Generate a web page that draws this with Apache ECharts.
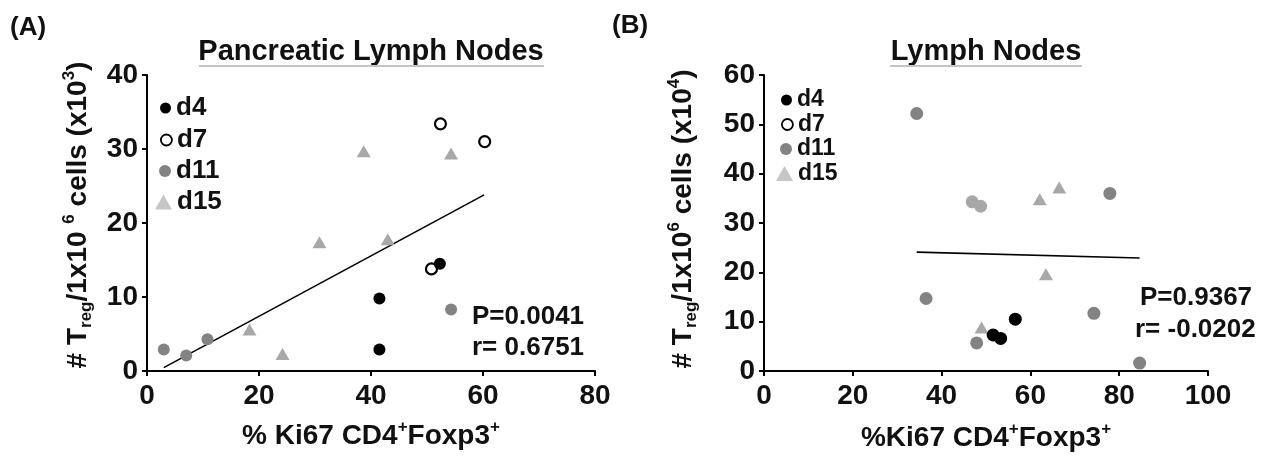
<!DOCTYPE html>
<html>
<head>
<meta charset="utf-8">
<script src="https://cdn.jsdelivr.net/npm/echarts/dist/echarts.min.js"></script>
<style>
  html, body { margin: 0; padding: 0; background: #ffffff; }
  #chart { width: 1274px; height: 459px; }
</style>
</head>
<body>
<div id="chart"></div>
<script>
  // ---- (A) Pancreatic Lymph Nodes : [ %Ki67 , Treg per 1e6 cells (x10^3) ]
  const plnD4 = [[41.5, 9.8], [41.5, 2.9], [52.3, 14.5]];
  const plnD7 = [[52.4, 33.4], [60.3, 31.0], [50.8, 13.8]];
  const plnD11 = [[3.0, 2.9], [7.0, 2.1], [10.8, 4.3], [54.3, 8.3]];
  const plnD15 = [[38.7, 29.7], [54.3, 29.4], [30.8, 17.4], [43.0, 17.8], [18.3, 5.6], [24.2, 2.3]];
  const plnFit = [[3.0, 0.45], [60.2, 23.8]];
  const plnStats = ['P=0.0041', 'r= 0.6751'];

  // ---- (B) Lymph Nodes : [ %Ki67 , Treg per 1e6 cells (x10^4) ]
  const lnD4 = [[56.6, 10.5], [51.6, 7.3], [53.3, 6.6]];
  const lnD11 = [[34.4, 52.2], [77.9, 36.0], [36.5, 14.7], [74.3, 11.7], [47.9, 5.7], [84.6, 1.6]];
  const lnD15 = [[62.1, 34.8], [66.5, 37.2], [63.5, 19.6], [49.0, 8.8]];
  const lnD15Dots = [[46.9, 34.3], [48.8, 33.4]];
  const lnFit = [[34.4, 24.1], [84.6, 22.9]];
  const lnStats = ['P=0.9367', 'r= -0.0202'];

  // axis ranges
  const plnXMax = 80, plnXStep = 20, plnYMax = 40, plnYStep = 10;
  const lnXMax = 100, lnXStep = 20, lnYMax = 60, lnYStep = 10;

  const FONT = '"Liberation Sans", Arial, Helvetica, sans-serif';
  const INK = '#111111';
  const C_D11 = '#838383';
  const C_D15 = '#a8a8a8';
  const C_D15_KEY = '#c6c6c6';

  let myChart = echarts.init(document.getElementById('chart'));

  function valueAxis(gridIndex, max, step, isX) {
    return {
      type: 'value',
      gridIndex: gridIndex,
      min: 0,
      max: max,
      interval: step,
      axisLine: {show: true, onZero: false, lineStyle: {color: '#000', width: 2}},
      axisTick: {show: true, inside: false, length: 5, lineStyle: {color: '#000', width: 2}},
      splitLine: {show: false},
      axisLabel: {
        color: INK, fontSize: 28, fontWeight: 'bold', fontFamily: FONT,
        margin: isX ? 11 : 9
      }
    };
  }

  function dots(name, data, xi, color, size) {
    return {
      type: 'scatter', name: name, xAxisIndex: xi, yAxisIndex: xi,
      data: data, symbol: 'circle', symbolSize: size,
      itemStyle: {color: color, opacity: 1},
      emphasis: {disabled: true}
    };
  }

  function rings(name, data, xi) {
    return {
      type: 'scatter', name: name, xAxisIndex: xi, yAxisIndex: xi,
      data: data, symbol: 'circle', symbolSize: 11,
      itemStyle: {color: '#ffffff', borderColor: '#000', borderWidth: 2.2, opacity: 1},
      emphasis: {disabled: true}
    };
  }

  function tris(name, data, xi) {
    return {
      type: 'scatter', name: name, xAxisIndex: xi, yAxisIndex: xi,
      data: data, symbol: 'triangle', symbolSize: [14, 12],
      itemStyle: {color: C_D15, opacity: 1},
      emphasis: {disabled: true}
    };
  }

  function fitLine(data, xi) {
    return {
      type: 'line', name: 'fit', xAxisIndex: xi, yAxisIndex: xi,
      data: data, symbol: 'none', showSymbol: false, silent: true,
      lineStyle: {color: '#000', width: 1.6}, z: 1
    };
  }

  // one legend per row so every key can keep its own icon size
  function keyRow(name, left, cy, icon, w, h, style, fs) {
    return {
      orient: 'vertical', left: left, top: cy - Math.max(h, fs) / 2,
      padding: 0, itemGap: 0, itemWidth: w, itemHeight: h,
      selectedMode: false,
      data: [{name: name, icon: icon, itemStyle: style}],
      textStyle: {fontSize: fs, fontWeight: 'bold', fontFamily: FONT, color: INK}
    };
  }

  function rich(size) {
    return {
      b: {fontSize: size, fontWeight: 'bold', fontFamily: FONT, fill: INK, lineHeight: 34},
      sup: {fontSize: 17, fontWeight: 'bold', fontFamily: FONT, fill: INK, lineHeight: 17, verticalAlign: 'top'},
      sub: {fontSize: 17, fontWeight: 'bold', fontFamily: FONT, fill: INK, lineHeight: 17, verticalAlign: 'bottom'}
    };
  }

  function label(x, y, text, size, align, rotation) {
    return {
      type: 'text', x: x, y: y, rotation: rotation || 0, silent: true,
      style: {
        text: text, fill: INK, align: align || 'center', verticalAlign: 'middle',
        font: 'bold ' + size + 'px ' + FONT, rich: rich(size)
      }
    };
  }

  function underline(x1, x2, y) {
    return {
      type: 'line', silent: true,
      shape: {x1: x1, y1: y, x2: x2, y2: y},
      style: {stroke: '#c4c4c4', lineWidth: 2}
    };
  }

  const K_D4 = {color: '#000'};
  const K_D7 = {color: '#fff', borderColor: '#000', borderWidth: 1.8};
  const K_D11 = {color: C_D11};
  const K_D15 = {color: C_D15_KEY};

  myChart.setOption({
    animation: false,
    backgroundColor: '#ffffff',
    grid: [
      {left: 147, top: 75, width: 448, height: 296},
      {left: 764, top: 75, width: 444, height: 296}
    ],
    xAxis: [
      valueAxis(0, plnXMax, plnXStep, true),
      valueAxis(1, lnXMax, lnXStep, true)
    ],
    yAxis: [
      valueAxis(0, plnYMax, plnYStep, false),
      valueAxis(1, lnYMax, lnYStep, false)
    ],
    legend: [
      keyRow('d4', 160, 108, 'circle', 11, 11, K_D4, 26),
      keyRow('d7', 160, 140, 'circle', 11, 11, K_D7, 26),
      keyRow('d11', 159, 171, 'circle', 12, 12, K_D11, 26),
      keyRow('d15', 155, 202, 'triangle', 17, 15, K_D15, 26),

      keyRow('d4', 781, 100, 'circle', 11, 11, K_D4, 23),
      keyRow('d7', 781, 124.5, 'circle', 11, 11, K_D7, 23),
      keyRow('d11', 780, 149, 'circle', 12, 12, K_D11, 23),
      keyRow('d15', 776, 173.5, 'triangle', 17, 15, K_D15, 23)
    ],
    series: [
      fitLine(plnFit, 0),
      dots('d11', plnD11, 0, C_D11, 12),
      tris('d15', plnD15, 0),
      rings('d7', plnD7, 0),
      dots('d4', plnD4, 0, '#000', 12),

      fitLine(lnFit, 1),
      dots('d11', lnD11, 1, C_D11, 13),
      dots('d15 dots', lnD15Dots, 1, C_D15, 13),
      tris('d15', lnD15, 1),
      dots('d4', lnD4, 1, '#000', 13)
    ],
    graphic: [
      label(10, 28, '(A)', 26, 'left'),
      label(612, 26, '(B)', 26, 'left'),

      label(371, 52, 'Pancreatic Lymph Nodes', 29),
      underline(199, 544, 66),
      label(986, 52, 'Lymph Nodes', 29),
      underline(890, 1082, 66),

      label(371, 436, '{b|% Ki67 CD4}{sup|+}{b|Foxp3}{sup|+}', 28),
      label(986, 438, '{b|%Ki67 CD4}{sup|+}{b|Foxp3}{sup|+}', 28),

      label(78, 215, '{b|# T}{sub|reg}{b|/1x10 }{sup|6}{b| cells (x10}{sup|3}{b|)}', 28, 'center', Math.PI / 2),
      label(683, 219, '{b|# T}{sub|reg}{b|/1x10}{sup|6}{b| cells (x10}{sup|4}{b|)}', 28, 'center', Math.PI / 2),

      label(472, 317, plnStats[0], 26, 'left'),
      label(472, 348, plnStats[1], 26, 'left'),
      label(1140, 298, lnStats[0], 26, 'left'),
      label(1135, 330, lnStats[1], 26, 'left')
    ]
  });
</script>
</body>
</html>
